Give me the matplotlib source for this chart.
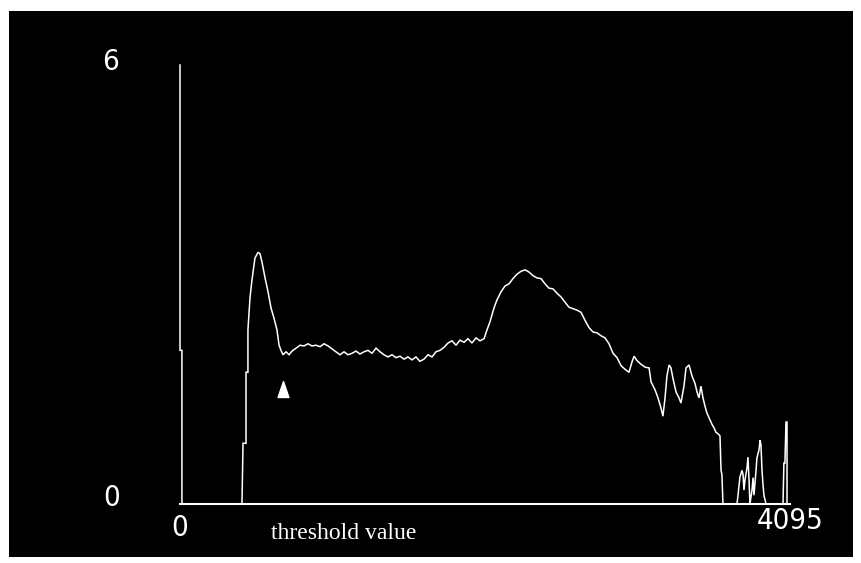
import numpy as np
import matplotlib
matplotlib.use("Agg")
import matplotlib.pyplot as plt
from matplotlib.patches import Rectangle

# histogram trace (threshold value, count scale 0..6)
thr = [0, 0, 13, 13, 416, 423, 443, 443, 456, 456, 470, 483, 503, 524, 537,
       550, 571, 591, 611, 631, 651, 665, 678, 691, 712, 732, 752, 779, 806,
       832, 859, 886, 913, 940, 967, 994, 1020, 1047, 1074, 1101, 1128, 1155,
       1181, 1208, 1235, 1262, 1289, 1316, 1343, 1369, 1396, 1423, 1450, 1477,
       1504, 1530, 1557, 1584, 1611, 1638, 1665, 1692, 1718, 1745, 1772, 1799,
       1826, 1853, 1880, 1907, 1933, 1960, 1987, 2014, 2041, 2061, 2081, 2108,
       2128, 2155, 2182, 2209, 2235, 2262, 2289, 2316, 2343, 2370, 2397, 2424,
       2450, 2477, 2504, 2531, 2558, 2584, 2611, 2638, 2665, 2692, 2719, 2746,
       2773, 2799, 2826, 2853, 2880, 2907, 2934, 2961, 2988, 3014, 3034, 3048,
       3068, 3095, 3122, 3149, 3162, 3189, 3209, 3229, 3242, 3256, 3269, 3283,
       3296, 3309, 3330, 3350, 3363, 3383, 3397, 3417, 3437, 3457, 3471, 3484,
       3497, 3511, 3524, 3538, 3551, 3571, 3585, 3598, 3612, 3625, 3632, 3638,
       3645, 3739, 3746, 3759, 3773, 3780, 3786, 3793, 3806, 3813, 3820, 3826,
       3840, 3847, 3853, 3867, 3873, 3887, 3894, 3900, 3907, 3914, 3920, 3934,
       4048, 4054, 4061, 4068, 4075, 4075, 4095]
cnt = [6.0, 2.1, 2.1, 0, 0, 0.83, 0.83, 1.80, 1.80, 2.38, 2.82, 3.06, 3.36,
       3.44, 3.42, 3.31, 3.09, 2.90, 2.68, 2.54, 2.38, 2.17, 2.10, 2.04, 2.08,
       2.04, 2.09, 2.13, 2.17, 2.16, 2.19, 2.16, 2.17, 2.15, 2.19, 2.16, 2.12,
       2.08, 2.04, 2.08, 2.04, 2.06, 2.09, 2.05, 2.08, 2.10, 2.06, 2.13, 2.08,
       2.04, 2.01, 2.04, 2.00, 2.02, 1.98, 2.01, 1.97, 2.01, 1.95, 1.98, 2.04,
       2.01, 2.08, 2.10, 2.14, 2.20, 2.23, 2.17, 2.24, 2.21, 2.26, 2.20, 2.27,
       2.23, 2.26, 2.38, 2.49, 2.68, 2.79, 2.90, 2.98, 3.01, 3.08, 3.14, 3.18,
       3.20, 3.17, 3.12, 3.09, 3.08, 3.01, 2.95, 2.94, 2.88, 2.83, 2.76, 2.69,
       2.67, 2.65, 2.62, 2.51, 2.41, 2.35, 2.34, 2.30, 2.27, 2.19, 2.06, 2.00,
       1.89, 1.84, 1.80, 1.94, 2.02, 1.96, 1.91, 1.87, 1.86, 1.67, 1.56, 1.45,
       1.31, 1.20, 1.45, 1.75, 1.90, 1.86, 1.72, 1.53, 1.45, 1.38, 1.61, 1.86,
       1.90, 1.75, 1.65, 1.53, 1.45, 1.61, 1.45, 1.34, 1.24, 1.18, 1.09, 1.04,
       0.98, 0.96, 0.93, 0.46, 0.40, 0, 0, 0.12, 0.37, 0.46, 0.40, 0.19, 0.33,
       0.49, 0.64, 0.33, 0, 0.19, 0.36, 0.12, 0.46, 0.63, 0.74, 0.87, 0.81,
       0.46, 0.26, 0.12, 0, 0, 0.56, 0.56, 1.12, 1.12, 0, 0]

marker_x, marker_y = 691, 1.57

fig = plt.figure(figsize=(8.62, 5.63), dpi=100, facecolor='white')
# black scanned panel, behind the axes
fig.patches.append(Rectangle((9/862, 1 - 557/563), 844/862, 546/563,
                             transform=fig.transFigure, facecolor='black',
                             edgecolor='none', zorder=-5))

ax = fig.add_axes([180/862, 59/563, 610/862, 439/563])
ax.set_zorder(2)
ax.set_facecolor('none')
ax.set_xlim(0, 4095)
ax.set_ylim(0, 6)
for s in ['top', 'right', 'left']:
    ax.spines[s].set_visible(False)
ax.spines['bottom'].set_color('white')
ax.spines['bottom'].set_linewidth(1.5)
ax.set_xticks([])
ax.set_yticks([])

ax.plot(thr, cnt, color='white', lw=1.1, clip_on=False, solid_joinstyle='miter')

tri = [(0, 1), (-0.68, -1), (0.68, -1), (0, 1)]
ax.plot([marker_x], [marker_y], marker=tri, ms=11.5, color='white',
        linestyle='none', clip_on=False)

def lab(txt, xy, off, **kw):
    ax.annotate(txt, xy=xy, xycoords='data', xytext=off,
                textcoords='offset pixels', color='white', **kw)

# thin narrow digits like the old screen font
nums = dict(ha='center', va='center', fontsize=21, family='DejaVu Sans',
            fontstretch='condensed', fontweight='light')
lab('6', (0, 6), (-69, 3), **nums)
lab('0', (0, 0), (-68, 6), **nums)
lab('0', (0, 0), (0, -24), **nums)
lab('4095', (4095, 0), (0, -17), **nums)
lab('threshold value', (1100, 0), (0, -19), ha='center', va='top', fontsize=17,
    family='Liberation Serif')

fig.savefig('out.png', dpi=100, facecolor='white')
